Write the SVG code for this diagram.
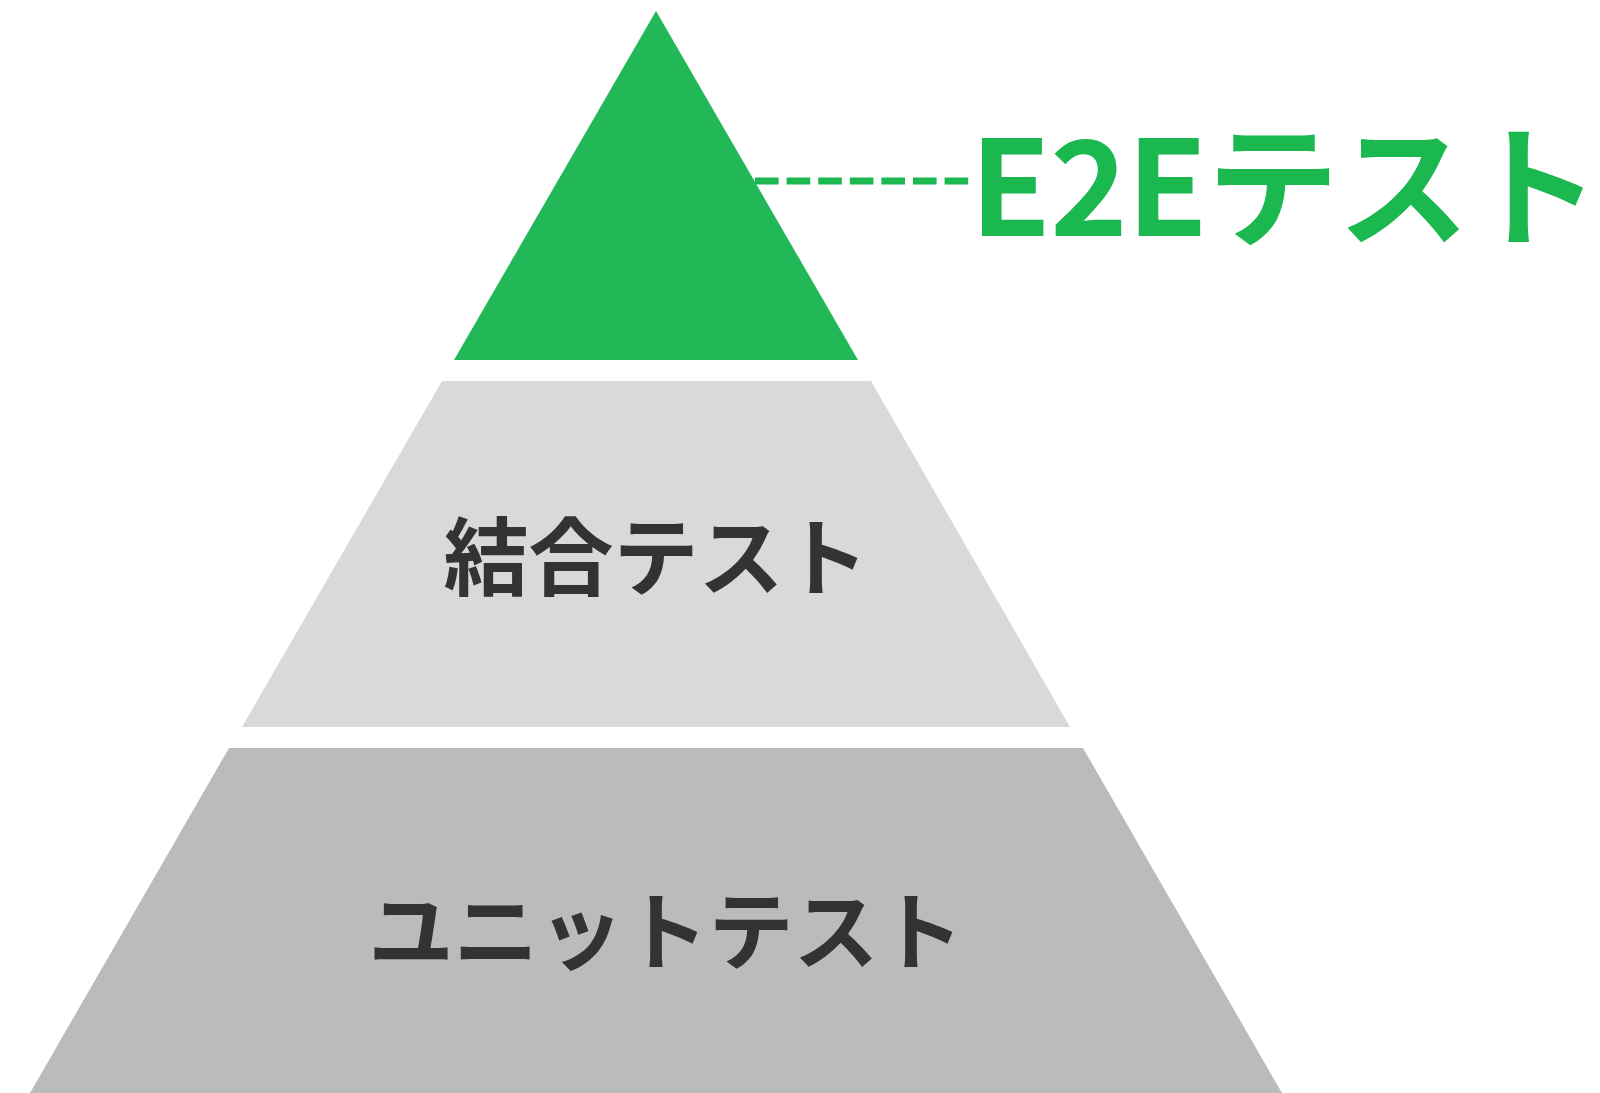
<svg xmlns="http://www.w3.org/2000/svg" width="1600" height="1093" viewBox="0 0 1600 1093">
<style>
.lbl{font-family:"Noto Sans CJK JP","Noto Sans",sans-serif;font-weight:bold;fill:#333333;text-anchor:middle}
.e2e{font-family:"Noto Sans CJK JP","Noto Sans",sans-serif;font-weight:bold;fill:#1bb84f}
</style>
<rect width="1600" height="1093" fill="#ffffff"/>
<g id="connectors">
<line x1="755" y1="181" x2="970" y2="181" stroke="#1bb84f" stroke-width="7" stroke-dasharray="23.6 8"/>
</g>
<g id="e2e">
<polygon points="656,11 454,360 858,360" fill="#23b857"/>
<text class="e2e" x="970" y="236" font-size="132" letter-spacing="-1.2">E2Eテスト</text>
</g>
<g id="integration">
<polygon points="442,381 871,381 1070,727 242,727" fill="#d9d9d9"/>
<text class="lbl" x="656" y="589" font-size="85">結合テスト</text>
</g>
<g id="unit">
<polygon points="229,748 1083,748 1282,1093 30,1093" fill="#bbbbbb"/>
<text class="lbl" x="666" y="963" font-size="85">ユニットテスト</text>
</g>
</svg>
